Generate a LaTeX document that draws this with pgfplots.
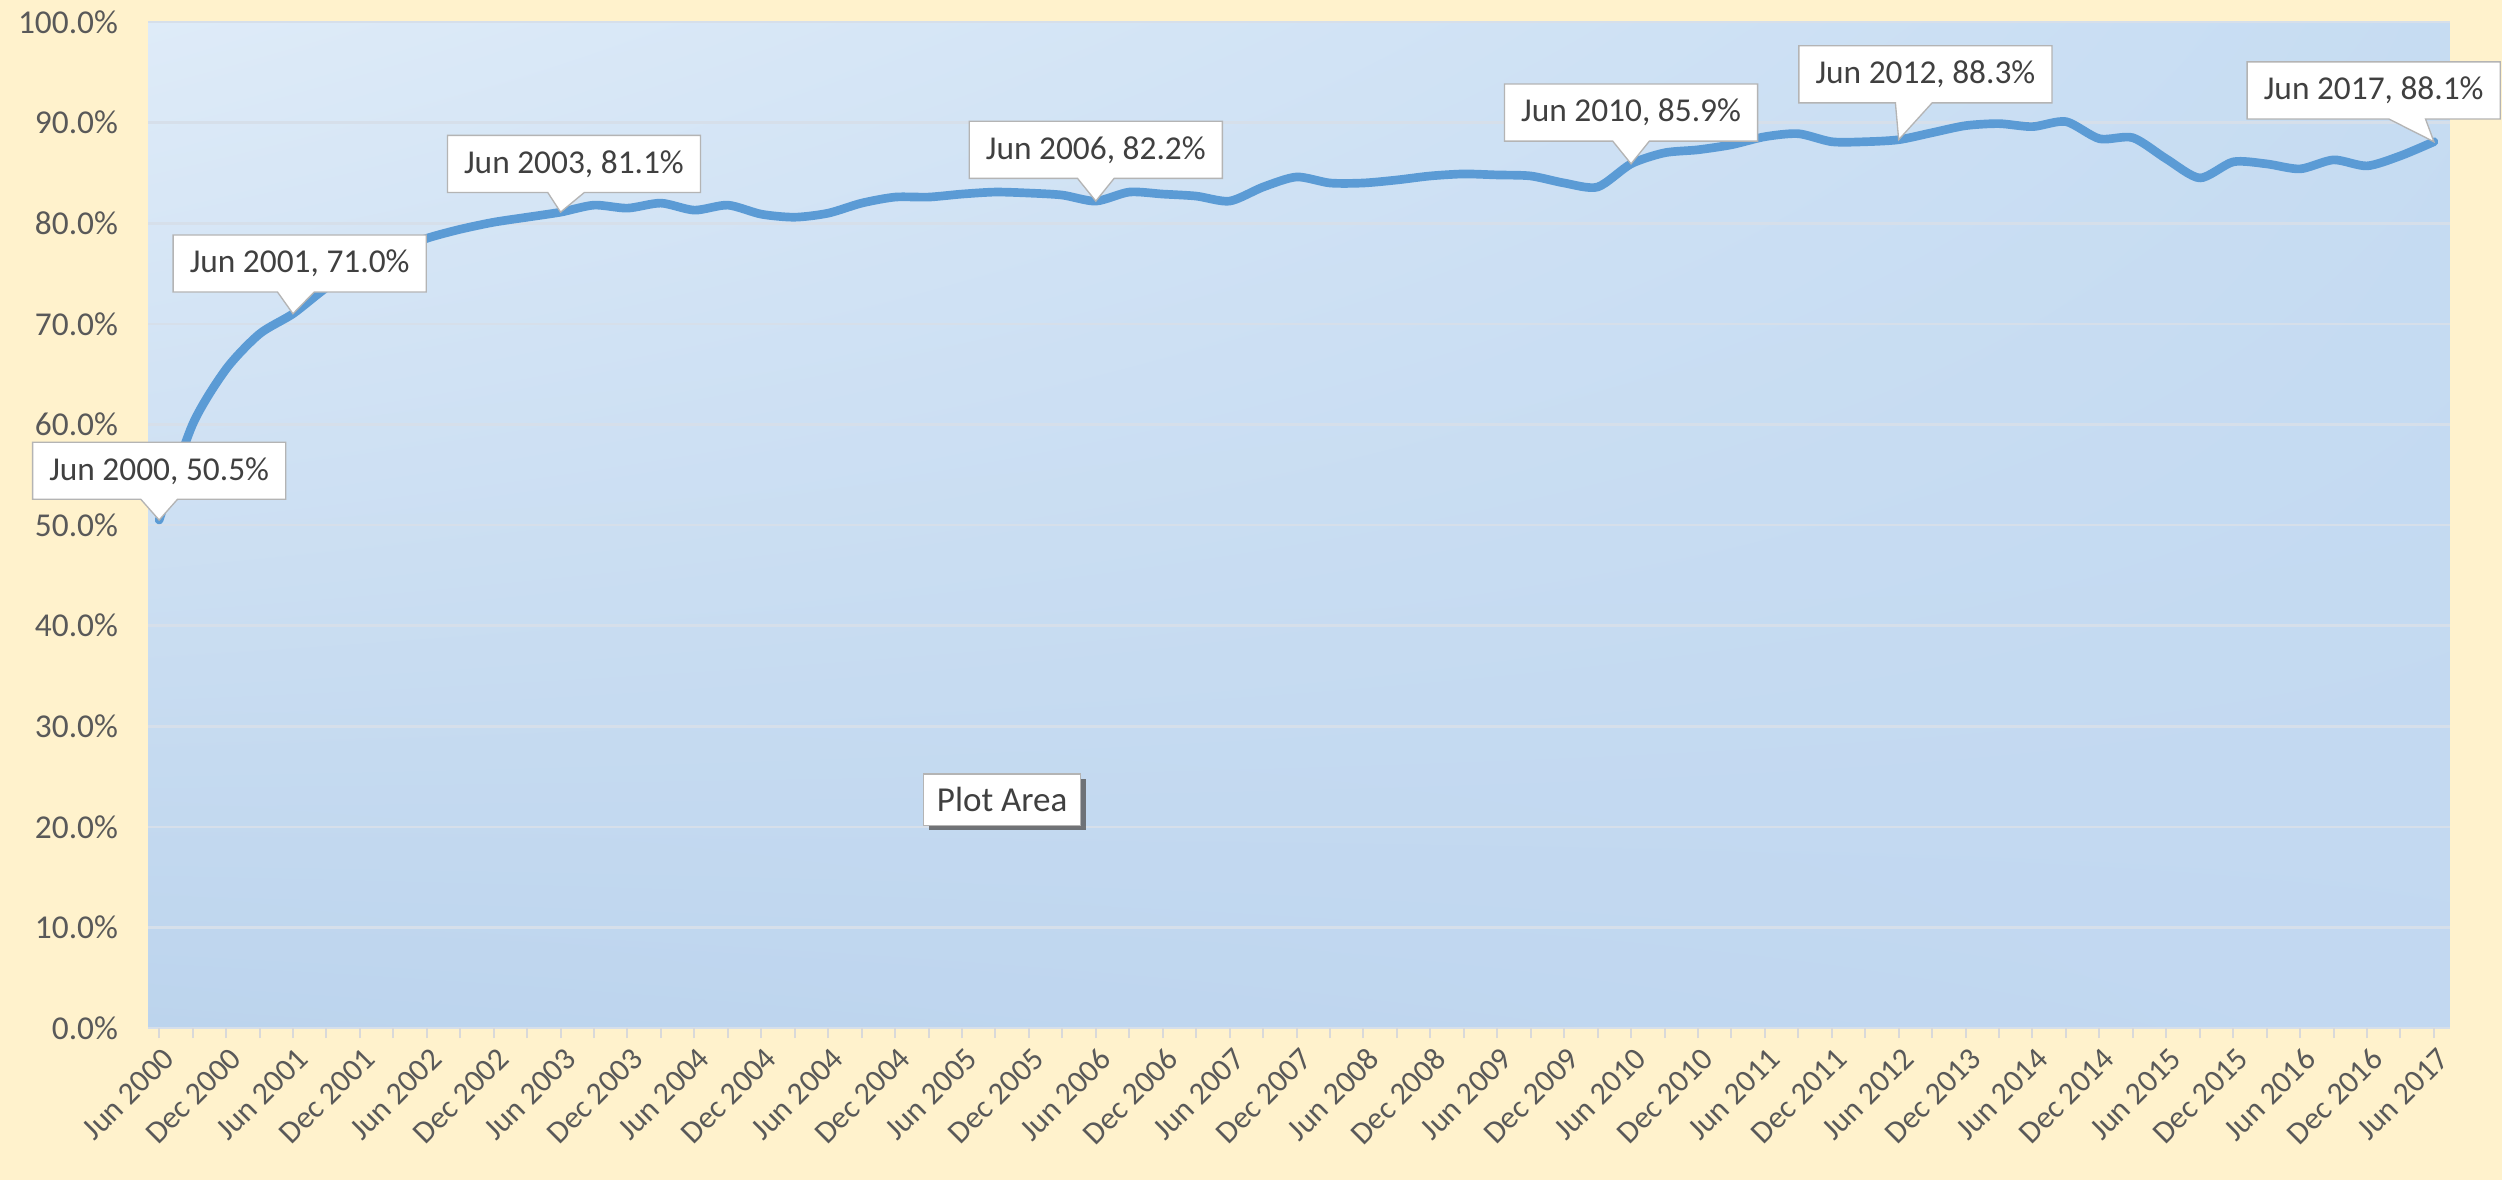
\documentclass[border=0pt]{standalone}
\usepackage{fontspec}
\setmainfont{Carlito}
\usepackage{pgfplots}
\pgfplotsset{compat=1.18}
\usetikzlibrary{shapes.callouts,shadows,shadings}

\definecolor{chartbg}{RGB}{255,242,204}
\definecolor{lineblue}{RGB}{91,155,213}
\definecolor{ticktext}{RGB}{89,89,89}
\definecolor{gridc}{RGB}{214,223,234}
\definecolor{boxline}{RGB}{180,180,180}
\definecolor{boxtext}{RGB}{64,64,64}
\definecolor{bgul}{RGB}{222,235,248}
\definecolor{bgur}{RGB}{198,220,242}
\definecolor{bgll}{RGB}{188,212,237}
\definecolor{bglr}{RGB}{194,216,241}

\begin{document}
\begin{tikzpicture}[font=\fontsize{10}{12}\selectfont,
  callout/.style={rectangle callout, draw=boxline, fill=white, text=boxtext,
    inner xsep=5pt, inner ysep=4.5pt, callout pointer width=11pt}]
\fill[chartbg] (-44.4pt,-45.6pt) rectangle (705.6pt,308.2pt);
\begin{axis}[
  at={(0,0)}, anchor=south west,
  scale only axis,
  width=690pt, height=301.6pt,
  xmin=-0.33, xmax=68.48,
  ymin=0, ymax=100,
  clip=false,
  axis line style={draw=none},
  axis background/.style={shade, upper left=bgul, upper right=bgur,
    lower left=bgll, lower right=bglr},
  ytick={0,10,...,100},
  yticklabel={\pgfmathprintnumber[fixed,fixed zerofill,precision=1]{\tick}\%},
  /pgf/number format/assume math mode=true,
  ymajorgrids,
  major grid style={gridc, line width=0.8pt},
  ytick style={draw=none},
  y tick label style={text=ticktext, xshift=-5.5pt},
  xtick={0,2,...,68},
  minor xtick={1,3,...,67},
  xticklabels={Jun 2000,Dec 2000,Jun 2001,Dec 2001,Jun 2002,Dec 2002,Jun 2003,Dec 2003,
    Jun 2004,Dec 2004,Jun 2004,Dec 2004,Jun 2005,Dec 2005,Jun 2006,Dec 2006,Jun 2007,
    Dec 2007,Jun 2008,Dec 2008,Jun 2009,Dec 2009,Jun 2010,Dec 2010,Jun 2011,Dec 2011,
    Jun 2012,Dec 2013,Jun 2014,Dec 2014,Jun 2015,Dec 2015,Jun 2016,Dec 2016,Jun 2017},
  xtick pos=bottom,
  xtick align=outside,
  major tick length=3pt, minor tick length=3pt,
  xtick style={draw=gray!30, line width=0.6pt},
  minor x tick style={draw=gray!30, line width=0.6pt},
  x tick label style={rotate=45, anchor=north east, text=ticktext, inner sep=1pt, yshift=-1pt,
    font=\fontsize{9.5}{11}\selectfont},
]
\addplot[lineblue, line width=2.6pt, smooth, tension=0.45, line cap=round, line join=round] coordinates {
  (0,50.5) (1,60.0) (2,65.5) (3,69.0) (4,71.0) (5,73.6) (6,75.6) (7,77.2)
  (8,78.5) (9,79.4) (10,80.1) (11,80.6) (12,81.1) (13,81.8) (14,81.5) (15,82.0)
  (16,81.3) (17,81.8) (18,80.9) (19,80.6) (20,81.0) (21,82.0) (22,82.6) (23,82.6)
  (24,82.9) (25,83.1) (26,83.0) (27,82.8) (28,82.2) (29,83.1) (30,82.9) (31,82.7)
  (32,82.2) (33,83.6) (34,84.6) (35,84.0) (36,84.0) (37,84.3) (38,84.7) (39,84.9)
  (40,84.8) (41,84.7) (42,84.0) (43,83.6) (44,85.9) (45,87.0) (46,87.3) (47,87.8)
  (48,88.6) (49,88.9) (50,88.1) (51,88.1) (52,88.3) (53,89.0) (54,89.7) (55,89.9)
  (56,89.6) (57,90.1) (58,88.4) (59,88.5) (60,86.4) (61,84.5) (62,86.1) (63,85.9)
  (64,85.4) (65,86.3) (66,85.7) (67,86.7) (68,88.1)
};
\node[callout, callout absolute pointer={(0,50.5)}] at (0,55.4) {Jun 2000, 50.5\%};
\node[callout, callout absolute pointer={(4,71.0)}] at (4.2,76.0) {Jun 2001, 71.0\%};
\node[callout, callout absolute pointer={(12,81.1)}] at (12.4,85.9) {Jun 2003, 81.1\%};
\node[callout, callout absolute pointer={(28,82.2)}] at (28,87.3) {Jun 2006, 82.2\%};
\node[callout, callout absolute pointer={(44,85.9)}] at (44,91.0) {Jun 2010, 85.9\%};
\node[callout, callout absolute pointer={(52,88.3)}] at (52.8,94.8) {Jun 2012, 88.3\%};
\node[callout, callout absolute pointer={(68,88.1)}] at (66.2,93.2) {Jun 2017, 88.1\%};
\node[draw=boxline, fill=white, text=boxtext, inner xsep=4pt, inner ysep=4pt,
  font=\fontsize{10.5}{12}\selectfont,
  drop shadow={shadow xshift=1.5pt, shadow yshift=-1.5pt, fill=black!65, opacity=0.8}]
  at (25.2,22.7) {Plot Area};
\end{axis}
\pgfresetboundingbox
\useasboundingbox (-44.4pt,-45.6pt) rectangle (705.6pt,308.2pt);
\end{tikzpicture}
\end{document}
